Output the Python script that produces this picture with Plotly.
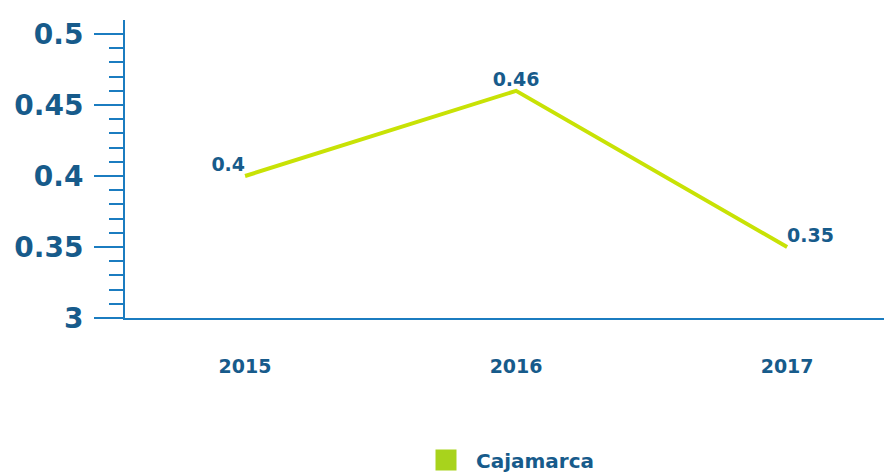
import plotly.graph_objects as go

years = [2015, 2016, 2017]
values = [0.4, 0.46, 0.35]
value_labels = ["0.4", "0.46", "0.35"]
label_positions = ["top left", "top center", "top right"]
series_name = "Cajamarca"
y_tick_vals = [0.3, 0.35, 0.4, 0.45, 0.5]
y_tick_text = ["3", "0.35", "0.4", "0.45", "0.5"]

TEXT = "#175b8b"
AXIS = "#1b7cc0"
LINE = "#c8e205"
LEG = "#a8d31c"
FONT = "DejaVu Sans"

# page body has an 8px margin, so the figure is sized to fill the rest
W, H = 884, 465

fig = go.Figure()
fig.add_trace(go.Scatter(
    x=years, y=values, mode="lines+text",
    line=dict(color=LINE, width=4),
    text=value_labels, textposition=label_positions,
    textfont=dict(family=FONT, size=19, color=TEXT, weight="bold"),
    showlegend=False, cliponaxis=False, hoverinfo="skip",
))
fig.add_trace(go.Scatter(
    x=[None], y=[None], mode="markers", name=series_name,
    marker=dict(symbol="square", size=16, color=LEG, line=dict(color=LEG, width=5)),
    showlegend=True,
))

fig.update_layout(
    width=W, height=H,
    margin=dict(l=117, r=0, t=12, b=155, autoexpand=False),
    paper_bgcolor="white", plot_bgcolor="white",
    font=dict(family=FONT, color=TEXT),
    xaxis=dict(
        range=[2014.557, 2017.387],
        tickvals=years, ticktext=[str(y) for y in years],
        tickfont=dict(family=FONT, size=19, color=TEXT, weight="bold"),
        showgrid=False, zeroline=False, automargin=False,
        showline=True, linecolor=AXIS, linewidth=2,
        ticks="", ticklabelstandoff=30,
    ),
    yaxis=dict(
        range=[0.3, 0.5099],
        tickvals=y_tick_vals, ticktext=y_tick_text,
        tickfont=dict(family=FONT, size=28, color=TEXT, weight="bold"),
        showgrid=False, zeroline=False, automargin=False,
        showline=True, linecolor=AXIS, linewidth=2,
        ticks="outside", ticklen=29, tickwidth=2, tickcolor=AXIS,
        ticklabelstandoff=5,
        minor=dict(ticks="outside", ticklen=14, tickwidth=1.5, tickcolor=AXIS, dtick=0.01, showgrid=False),
    ),
    legend=dict(
        orientation="h", xref="container", yref="container",
        x=(416 - 8) / W, xanchor="left",
        y=(H - (460 - 8)) / H, yanchor="middle",
        itemwidth=50,
        font=dict(family=FONT, size=20, color=TEXT, weight="bold"),
        bgcolor="rgba(0,0,0,0)",
    ),
)

fig.write_html("out.html")
